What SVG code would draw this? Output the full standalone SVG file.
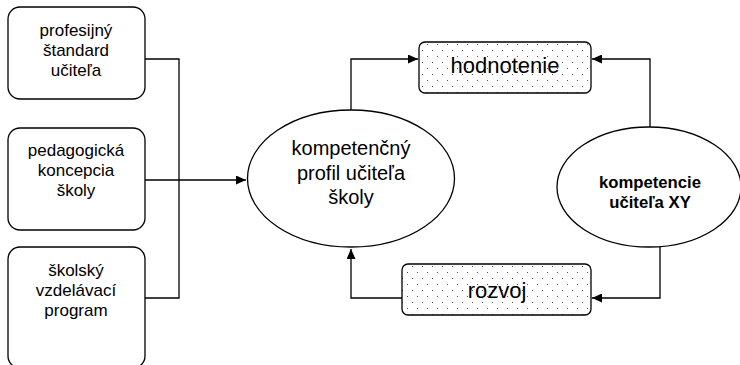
<svg xmlns="http://www.w3.org/2000/svg" width="740" height="365" viewBox="0 0 740 365">
<style>
text{font-family:"Liberation Sans",Arial,sans-serif;fill:#000;text-anchor:middle}
.box{fill:#fff;stroke:#000;stroke-width:1.3}
.dot{fill:url(#dots);stroke:#000;stroke-width:1.3}
.l{font-size:17px}
.e{font-size:20px}
.b{font-size:16.7px;font-weight:bold}
.d{font-size:22px}
.c{fill:none;stroke:#000;stroke-width:1.3}
</style>
<defs>
<pattern id="dots" width="10" height="12" patternUnits="userSpaceOnUse" x="0" y="0">
<rect width="10" height="12" fill="#fff"/>
<rect x="2" y="2" width="1" height="1" fill="#555"/>
<rect x="7" y="8" width="1" height="1" fill="#555"/>
</pattern>
<marker id="arr" markerWidth="11" markerHeight="9" refX="10" refY="4.5" orient="auto" markerUnits="userSpaceOnUse">
<path d="M0,0 L10,4.5 L0,9 Z" fill="#000"/>
</marker>
</defs>
<g id="connectors">
<path class="c" d="M145,59 H179 V298 H145"/>
<path class="c" d="M145,180 H246" marker-end="url(#arr)"/>
<path class="c" d="M351,110 V59 H418" marker-end="url(#arr)"/>
<path class="c" d="M650,127 V59 H592" marker-end="url(#arr)"/>
<path class="c" d="M660,246 V298 H592" marker-end="url(#arr)"/>
<path class="c" d="M402,298 H351 V249" marker-end="url(#arr)"/>
</g>
<g id="n1">
<rect class="box" x="8" y="7" width="137" height="92" rx="12"/>
<text class="l" x="76" y="36">profesijný</text>
<text class="l" x="76" y="56">štandard</text>
<text class="l" x="76" y="76">učiteľa</text>
</g>
<g id="n2">
<rect class="box" x="8" y="128" width="137" height="102" rx="12"/>
<text class="l" x="76" y="156">pedagogická</text>
<text class="l" x="76" y="176">koncepcia</text>
<text class="l" x="76" y="196">školy</text>
</g>
<g id="n3">
<rect class="box" x="8" y="247" width="137" height="121" rx="12"/>
<text class="l" x="76" y="276">školský</text>
<text class="l" x="76" y="296">vzdelávací</text>
<text class="l" x="76" y="316">program</text>
</g>
<g id="profil">
<ellipse class="box" cx="351" cy="178.5" rx="103.5" ry="68.5"/>
<text class="e" x="351" y="155">kompetenčný</text>
<text class="e" x="351" y="180">profil učiteľa</text>
<text class="e" x="351" y="204">školy</text>
</g>
<g id="hodnotenie">
<rect class="dot" x="419" y="42" width="172" height="51" rx="6"/>
<text class="d" x="505" y="73">hodnotenie</text>
</g>
<g id="rozvoj">
<rect class="dot" x="402" y="264" width="189" height="51" rx="6"/>
<text class="d" x="497" y="298">rozvoj</text>
</g>
<g id="kompetencie">
<ellipse class="box" cx="649" cy="187" rx="92" ry="60"/>
<text class="b" x="650" y="188">kompetencie</text>
<text class="b" x="650" y="208">učiteľa XY</text>
</g>
</svg>
